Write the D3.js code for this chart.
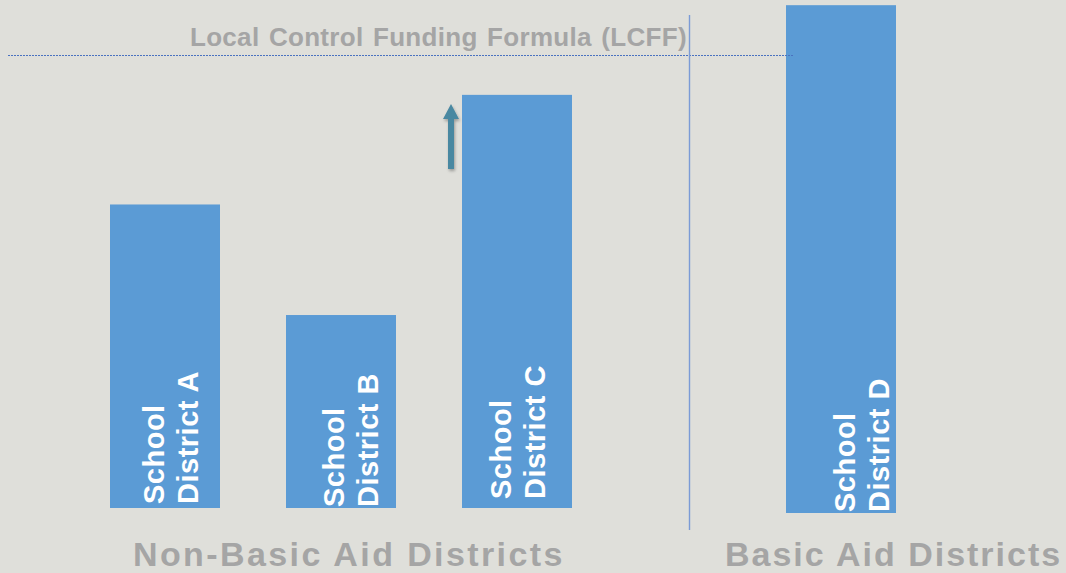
<!DOCTYPE html>
<html>
<head>
<meta charset="utf-8">
<script src="https://cdn.jsdelivr.net/npm/d3@7"></script>
<style>
  html, body { margin: 0; padding: 0; background: #dfdfda; }
  svg { display: block; font-family: Arial, "Liberation Sans", sans-serif; }
</style>
</head>
<body>
<svg width="1066" height="573"></svg>
<script>
// data
var nonBasicDistricts = ['School District A', 'School District B', 'School District C'];
var nonBasicValues = [67, 42.6, 91.2];
var basicDistricts = ['School District D'];
var basicValues = [112.1];
var lcffValue = 100;
var lcffLabel = 'Local Control Funding Formula (LCFF)';
var groupLabels = ['Non-Basic Aid Districts', 'Basic Aid Districts'];

// small label nudges, one per bar
var labelDx = [0, 4, -5, 15];
var labelDy = [-4, -1, -9, -1];

var svg = d3.select('svg');

var y = d3.scaleLinear()
  .domain([0, 100])
  .range([508, 55]);

var xLeft = d3.scaleBand()
  .domain(nonBasicDistricts)
  .range([77, 605])
  .paddingInner(0.375)
  .paddingOuter(0.1875);

var xRight = d3.scaleBand()
  .domain(basicDistricts)
  .range([753, 929])
  .paddingInner(0.375)
  .paddingOuter(0.1875);

var defs = svg.append('defs');
var f = defs.append('filter').attr('id', 'shadow')
  .attr('x', '-50%').attr('y', '-20%').attr('width', '200%').attr('height', '140%');
f.append('feDropShadow')
  .attr('dx', 1).attr('dy', 2).attr('stdDeviation', 1.5)
  .attr('flood-color', '#000').attr('flood-opacity', 0.3);

function drawGroup(g, names, values, x, offset) {
  var bars = g.selectAll('g.bar')
    .data(names.map(function(n, i) { return {name: n, value: values[i], idx: i + offset}; }))
    .enter()
    .append('g')
    .attr('class', 'bar');

  bars.append('rect')
    .attr('x', function(d) { return x(d.name); })
    .attr('y', function(d) { return y(d.value); })
    .attr('width', x.bandwidth())
    .attr('height', function(d) { return y(0) - y(d.value); })
    .attr('fill', '#5b9bd5');

  var parts = function(d) {
    var p = d.name.split(' ');
    return [p[0], p.slice(1).join(' ')];
  };

  bars.each(function(d) {
    var bx = x(d.name) + labelDx[d.idx];
    var by = y(0) + labelDy[d.idx];
    var t = d3.select(this).append('text')
      .attr('transform', 'translate(' + [bx, by] + ') rotate(-90)')
      .style('font-size', '29px')
      .style('font-weight', 'bold')
      .style('letter-spacing', '0.5px')
      .attr('fill', 'white');
    var lines = parts(d);
    t.append('tspan').attr('x', 0).attr('y', 54).text(lines[0]);
    t.append('tspan').attr('x', 0).attr('y', 88).text(lines[1]);
  });
}

var gLeft = svg.append('g');
drawGroup(gLeft, nonBasicDistricts, nonBasicValues, xLeft, 0);

var gRight = svg.append('g').attr('transform', 'translate(0,5)');
drawGroup(gRight, basicDistricts, basicValues, xRight, 3);

// LCFF reference line
svg.append('line')
  .attr('x1', 8)
  .attr('x2', 794)
  .attr('y1', y(lcffValue) + 0.5)
  .attr('y2', y(lcffValue) + 0.5)
  .attr('stroke', '#4a72c0')
  .attr('stroke-width', 1)
  .attr('stroke-dasharray', '2,1');

svg.append('text')
  .attr('x', 190)
  .attr('y', y(lcffValue) - 9)
  .style('font-size', '26px')
  .style('font-weight', 'bold')
  .style('letter-spacing', '0.3px')
  .style('word-spacing', '2px')
  .attr('fill', '#a5a5a5')
  .text(lcffLabel);

// divider between groups
svg.append('line')
  .attr('x1', 689.5).attr('x2', 689.5)
  .attr('y1', 15).attr('y2', 530)
  .attr('stroke', '#7b9bd6')
  .attr('stroke-width', 1.4);

// arrow next to district C
var ax = xLeft('School District C') - 11;
svg.append('path')
  .attr('d', 'M' + (ax - 3) + ',' + 169 + 'V' + 119 + 'H' + (ax - 8) + 'L' + ax + ',' + 104 +
    'L' + (ax + 8) + ',' + 119 + 'H' + (ax + 3) + 'V' + 169 + 'Z')
  .attr('fill', '#4a88a1')
  .attr('filter', 'url(#shadow)');

// group labels
svg.append('text')
  .attr('x', 133)
  .attr('y', 566)
  .style('font-size', '34px')
  .style('font-weight', 'bold')
  .style('letter-spacing', '2.4px')
  .attr('fill', '#a5a5a5')
  .text(groupLabels[0]);

svg.append('text')
  .attr('x', 725)
  .attr('y', 566)
  .style('font-size', '34px')
  .style('font-weight', 'bold')
  .style('letter-spacing', '2px')
  .attr('fill', '#a5a5a5')
  .text(groupLabels[1]);
</script>
</body>
</html>
